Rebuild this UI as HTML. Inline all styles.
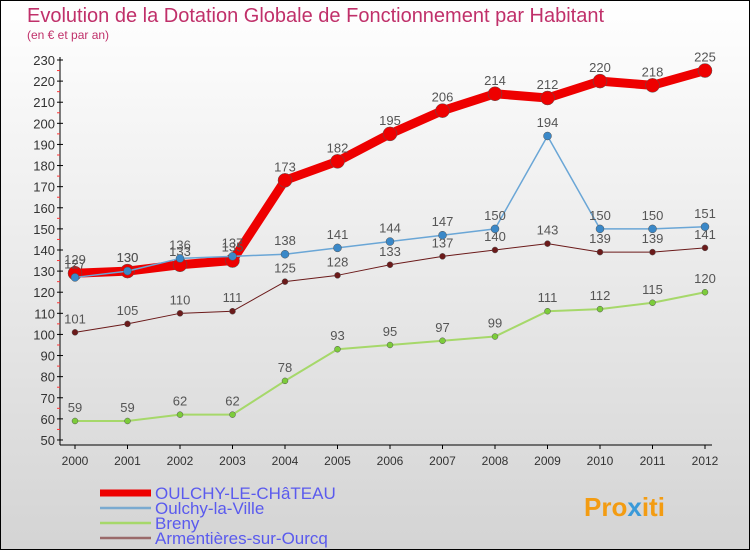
<!DOCTYPE html>
<html><head><meta charset="utf-8"><style>
body{margin:0}
#c{width:750px;height:550px;position:relative;box-sizing:border-box;border:1px solid #000;background:linear-gradient(#fff,#d4d4d4);font-family:"Liberation Sans",sans-serif;overflow:hidden}
</style></head><body>
<div id="c">
<svg id="s" width="750" height="550" style="position:absolute;left:-1px;top:-1px">
<text x="27" y="22" font-size="20" fill="#c0306a">Evolution de la Dotation Globale de Fonctionnement par Habitant</text>
<text x="27" y="39" font-size="12" fill="#c0306a">(en € et par an)</text>
<g id="axes"></g><g id="series"></g><g id="legend"></g>
<text x="584" y="516" font-size="26" font-weight="bold" fill="#f39c12">Pro<tspan fill="#3a9ad9">x</tspan>iti</text>
</svg>
</div>
<script>
const years=[2000,2001,2002,2003,2004,2005,2006,2007,2008,2009,2010,2011,2012];
const yTicks=[50,60,70,80,90,100,110,120,130,140,150,160,170,180,190,200,210,220,230];
const oulchyChateau=[129,130,133,135,173,182,195,206,214,212,220,218,225];
const oulchyVille=[127,130,136,137,138,141,144,147,150,194,150,150,151];
const breny=[59,59,62,62,78,93,95,97,99,111,112,115,120];
const armentieres=[101,105,110,111,125,128,133,137,140,143,139,139,141];
const NS='http://www.w3.org/2000/svg';
function xs(i){return 75+i*52.5;}
function ys(v){return 60+(230-v)*2.111;}
function mk(t,a,p){const e=document.createElementNS(NS,t);for(const k in a)e.setAttribute(k,a[k]);p.appendChild(e);return e;}
const ax=document.getElementById('axes');
const yl=mk('line',{x1:60,y1:57,x2:60,y2:445,stroke:'#000'},ax);


const xl=mk('line',{x1:60,y1:445,x2:712,y2:445,stroke:'#000'},ax);


yTicks.forEach(v=>{
 mk('line',{x1:57,y1:ys(v),x2:63,y2:ys(v),stroke:'#000'},ax);
 if(v<230)mk('line',{x1:57,y1:ys(v+5),x2:60,y2:ys(v+5),stroke:'#f33'},ax);
 const t=mk('text',{x:55,y:ys(v)+5,'font-size':13,'text-anchor':'end',fill:'#333'},ax);t.textContent=v;
 
 
});
years.forEach((y,i)=>{
 mk('line',{x1:xs(i),y1:445,x2:xs(i),y2:449,stroke:'#000'},ax);
 const t=mk('text',{x:xs(i),y:465,'font-size':12,'text-anchor':'middle',fill:'#333'},ax);t.textContent=y;
 
 
});
const se=document.getElementById('series');
const series=[
 {d:armentieres,c:'#6b1a1a',w:1,r:3,n:'armentieres',lbl:'Armentières-sur-Ourcq',lc:'#9a6a6a'},
 {d:breny,c:'#a6d86a',w:2,r:3,n:'breny',lbl:'Breny',lc:'#a6d86a',dot:'#7ccc3a'},
 {d:oulchyChateau,c:'#ee0000',w:9,r:7,n:'oulchy-le-chateau',lbl:'OULCHY-LE-CHâTEAU',lc:'#ee0000'},
 {d:oulchyVille,c:'#6aa6d6',w:1.5,r:4,n:'oulchy-la-ville',lbl:'Oulchy-la-Ville',lc:'#7aaad0',dot:'#3a88c8'}
];
series.forEach(s=>{
 const g=mk('g',{},se);
 
 
 const pl=mk('polyline',{points:s.d.map((v,i)=>xs(i)+','+ys(v)).join(' '),fill:'none',stroke:s.c,'stroke-width':s.w,'stroke-linejoin':'round'},g);
 
 
 s.d.forEach((v,i)=>{
  const c=mk('circle',{cx:xs(i),cy:ys(v),r:s.r,fill:s.dot||s.c,stroke:'#555','stroke-width':0.5},g);
  
  
  const t=mk('text',{x:xs(i),y:ys(v)-9,'font-size':13,'text-anchor':'middle',fill:'#555'},g);t.textContent=v;
  
  
 });
});
const lg=document.getElementById('legend');
const order=[series[2],series[3],series[1],series[0]];
order.forEach((s,i)=>{
 const y=493+i*15;
 const g=mk('g',{},lg);
 
 
 mk('line',{x1:100,y1:y,x2:151,y2:y,stroke:s.lc,'stroke-width':i==0?7:2.5},g);
 const t=mk('text',{x:155,y:y+6,'font-size':17,fill:'#5a5aee'},g);t.textContent=s.lbl;
});
</script>
</body></html>
